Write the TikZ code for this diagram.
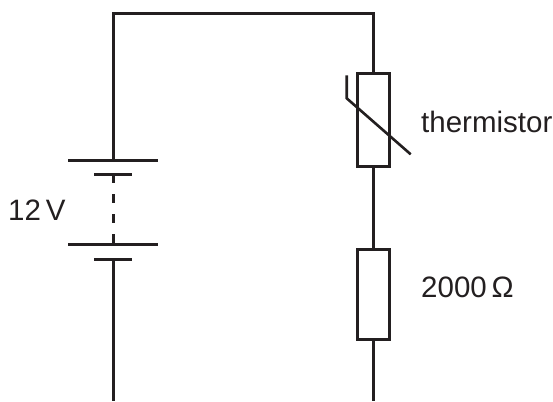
\documentclass[tikz,border=0pt]{standalone}
\usepackage{fontspec}
\setmainfont{Liberation Sans}
\begin{document}
\begin{tikzpicture}[x=1pt,y=-1pt,
  wire/.style={line width=3pt, draw=ink},
  resbox/.style={draw=ink, line width=3pt, fill=white, rectangle, minimum width=31.6pt, inner sep=0pt},
  lbl/.style={text=ink, font=\fontsize{29.5}{31}\selectfont, inner sep=0pt}]
\definecolor{ink}{HTML}{231F20}
\useasboundingbox (0,0) rectangle (553,401);
% corners and ends
\coordinate (tl) at (113,14);
\coordinate (tr) at (373.5,14);
\coordinate (bl) at (113,401);
\coordinate (br) at (373.5,401);
% battery plates
\coordinate (p1a) at (68,160);  \coordinate (p1b) at (158,160);
\coordinate (s1a) at (94,174);  \coordinate (s1b) at (132,174);
\coordinate (p2a) at (68,244);  \coordinate (p2b) at (158,244);
\coordinate (s2a) at (94,259);  \coordinate (s2b) at (132,259);
\coordinate (p1) at (113,160);
\coordinate (s1) at (113,174);
\coordinate (p2) at (113,244);
\coordinate (s2) at (113,259);
% components
\node[resbox, minimum height=92pt] (th) at (373.5,120) {};
\node[resbox, minimum height=90pt] (r) at (373.5,294) {};
% wires
\draw[wire] (p1) -- (tl) -- (tr) -- (th.north);
\draw[wire] (th.south) -- (r.north);
\draw[wire] (r.south) -- (br);
\draw[wire] (s2) -- (bl);
\draw[wire, dash pattern=on 9.3pt off 10.7pt] (s1) -- (p2);
% plates
\draw[wire] (p1a) -- (p1b);
\draw[wire] (s1a) -- (s1b);
\draw[wire] (p2a) -- (p2b);
\draw[wire] (s2a) -- (s2b);
% thermistor slash
\coordinate (hk) at (346.7,75.5);
\coordinate (ha) at (346.7,98.3);
\coordinate (hb) at (410.7,154.3);
\draw[wire, line width=2.6pt] (hk) -- (ha) -- (hb);
% labels
\node[lbl, anchor=west] (lth) at (421,122) {thermistor};
\node[lbl, anchor=west] (lr) at (421,287) {2000\,Ω};
\node[lbl, anchor=west] (lv) at (8,210) {12\,V};
\end{tikzpicture}
\end{document}
